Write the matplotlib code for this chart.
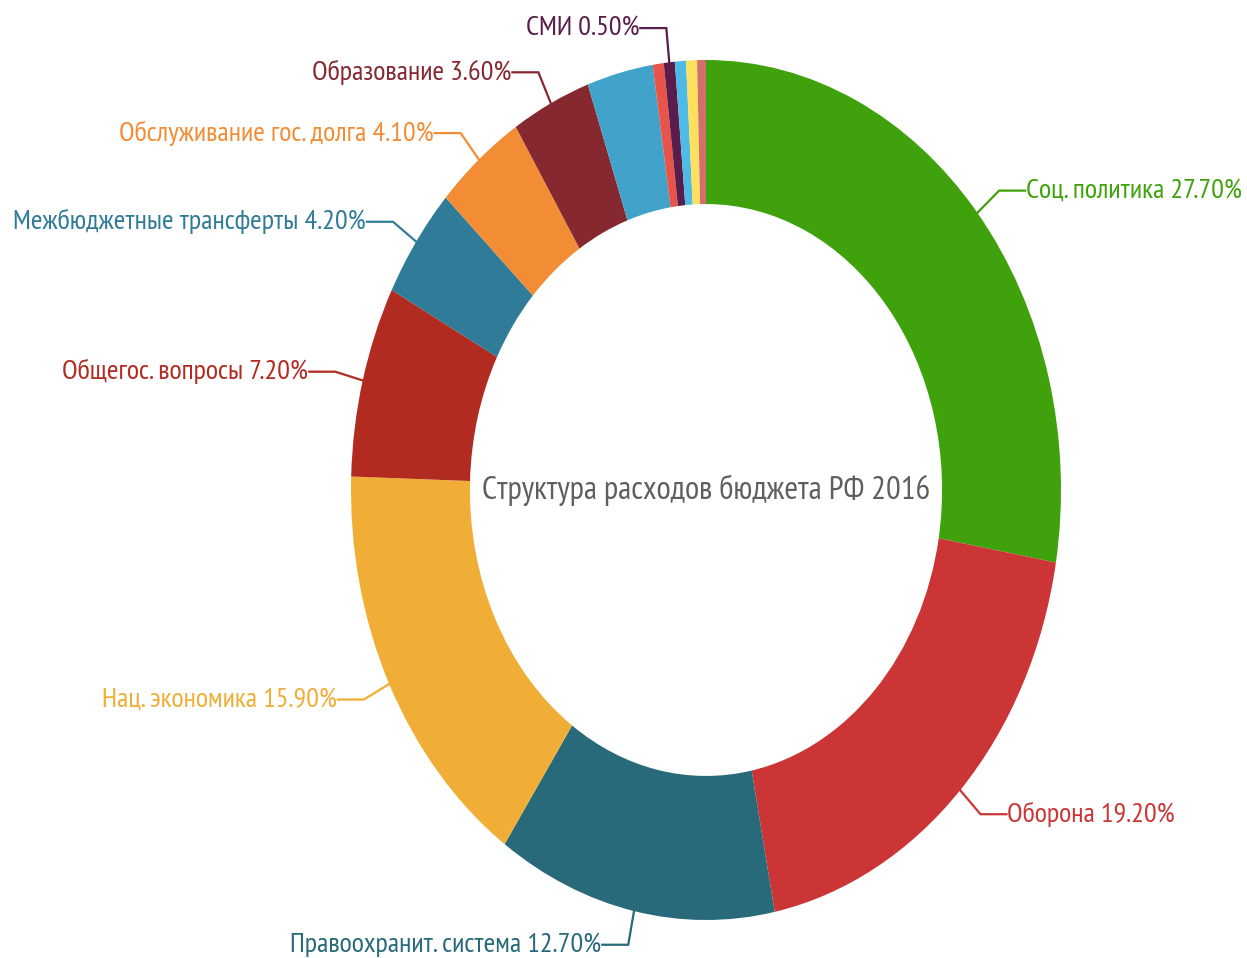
import numpy as np
import matplotlib
matplotlib.use("Agg")
import matplotlib.pyplot as plt

# Data (clockwise from 12 o'clock)
categories = ["Соц. политика", "Оборона", "Правоохранит. система", "Нац. экономика",
              "Общегос. вопросы", "Межбюджетные трансферты", "Обслуживание гос. долга",
              "Образование", "Здравоохранение", "ЖКХ", "СМИ", "Культура", "Спорт", "Экология"]
values = [27.7, 19.2, 12.7, 15.9, 7.2, 4.2, 4.1, 3.6, 3.0, 0.5, 0.5, 0.5, 0.5, 0.4]
show_label = [True, True, True, True, True, True, True, True, False, False, True, False, False, False]
colors = ["#3fa10b", "#cc3535", "#286a7a", "#f0ae37", "#b12b20", "#2f7b98", "#f28d35",
          "#85282f", "#41a3c9", "#e8534a", "#5a1d4b", "#4dbbe5", "#fde05e", "#d26f6a"]
center_title = "Структура расходов бюджета РФ 2016"

W, H = 1247, 958
cx, cy = 706, 958 - 490   # pixel centre (from bottom)
rx, ry = 355.0, 430.0

fig = plt.figure(figsize=(W / 100, H / 100), dpi=100)
ax = fig.add_axes([0, 0, 1, 1])
ax.pie(values, colors=colors, startangle=90, counterclock=False, radius=1.0,
       wedgeprops=dict(width=0.335, linewidth=0))
ax.set_aspect("auto")
ax.set_xlim(-cx / rx, (W - cx) / rx)
ax.set_ylim(-cy / ry, (H - cy) / ry)
ax.axis("off")

font = ["PT Sans Narrow", "Roboto Condensed", "Fira Sans Condensed", "DejaVu Sans"]
total = sum(values)
cum = 0.0
for name, v, c, show in zip(categories, values, colors, show_label):
    mid = (cum + v / 2) / total * 2 * np.pi
    cum += v
    if not show:
        continue
    s, co = np.sin(mid), np.cos(mid)
    p0 = (1.0 * s, 1.0 * co)
    p1 = (1.08 * s, 1.08 * co)
    d = 1 if s >= 0 else -1
    p2 = (p1[0] + d * 26 / rx, p1[1])
    ax.plot([p0[0], p1[0], p2[0]], [p0[1], p1[1], p2[1]], color=c, lw=1.6,
            solid_joinstyle="miter")
    ax.text(p2[0] + d * 1 / rx, p2[1], f"{name} {v:.2f}%", color=c,
            ha="left" if d > 0 else "right", va="center", fontsize=20.3, family=font)

ax.text(0, 0, center_title, ha="center", va="center", fontsize=23.6, color="#5f5f5f",
        family=font)

fig.savefig("out.png", dpi=100, facecolor="white")
